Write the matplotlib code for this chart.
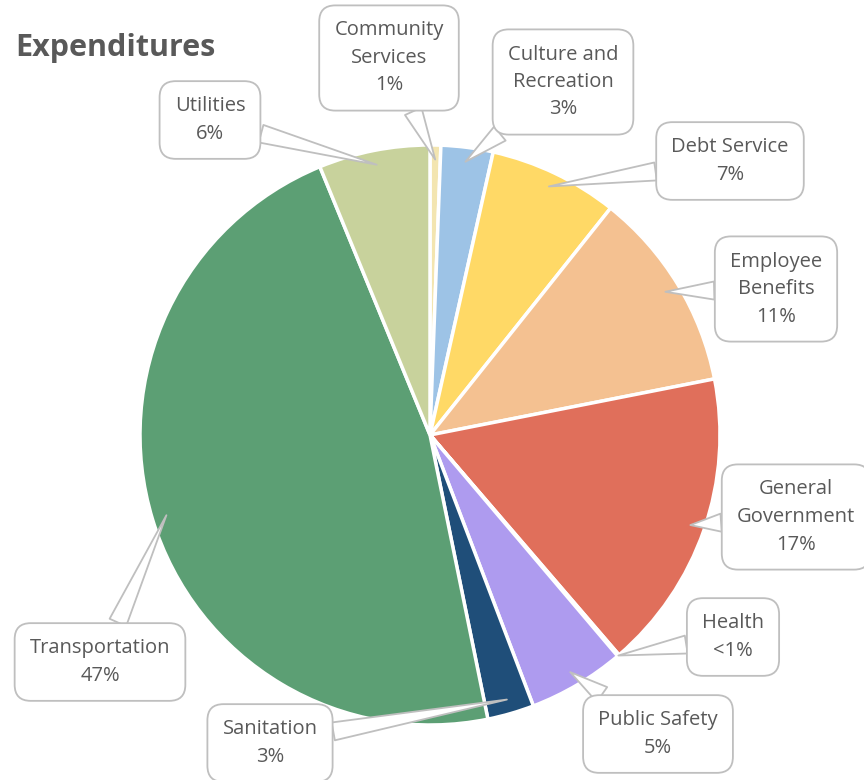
"""
Expenditure breakdown as a pie chart with callout labels.
"""

import matplotlib.pyplot as plt
import numpy as np

categories = [
    "Community\nServices", "Culture and\nRecreation", "Debt Service",
    "Employee\nBenefits", "General\nGovernment", "Health",
    "Public Safety", "Sanitation", "Transportation", "Utilities",
]
shares = [0.6, 2.9, 7.2, 11.2, 16.8, 0.1, 5.4, 2.6, 47.0, 6.2]
colors = [
    "#F3E5B0", "#9DC3E6", "#FFD966", "#F4C191", "#E06F5B",
    "#C55A11", "#AE9BEF", "#1F4E79", "#5C9F74", "#C8D29C",
]

# callout box centres, in figure pixels measured from the top-left
box_centres = [
    (389, 58), (563, 82), (730, 161), (776, 289), (796, 517),
    (733, 637), (658, 734), (270, 743), (100, 662), (210, 120),
]

TEXT_GREY = "#595959"
EDGE_GREY = "#BFBFBF"
W, H = 864, 780


def pct_label(value):
    if value < 0.5:
        return "<1%"
    return f"{round(value):.0f}%"


def main():
    plt.rcParams["font.family"] = ["Open Sans", "DejaVu Sans"]
    fig = plt.figure(figsize=(W / 100, H / 100), dpi=100)

    cx, cy, r = 430, 435, 290
    ax = fig.add_axes([(cx - r) / W, (H - cy - r) / H, 2 * r / W, 2 * r / H])
    wedges, _ = ax.pie(
        shares, colors=colors, startangle=90, counterclock=False,
        radius=1.0, wedgeprops=dict(edgecolor="white", linewidth=2.5),
    )
    ax.set_xlim(-1, 1)
    ax.set_ylim(-1, 1)
    ax.set_aspect("equal")
    ax.axis("off")

    for w, name, val, (bx, by) in zip(wedges, categories, shares, box_centres):
        mid = np.deg2rad((w.theta1 + w.theta2) / 2)
        rr = 1.0 if val < 0.5 else 0.95
        tip = (rr * np.cos(mid), rr * np.sin(mid))
        ax.annotate(
            f"{name}\n{pct_label(val)}",
            xy=tip, xycoords="data",
            xytext=(bx / W, 1 - by / H), textcoords="figure fraction",
            ha="center", va="center", fontsize=14.5, color=TEXT_GREY,
            linespacing=1.5,
            bbox=dict(boxstyle="round,pad=0.75,rounding_size=0.8",
                      fc="white", ec=EDGE_GREY, lw=1.3),
            arrowprops=dict(arrowstyle="wedge,tail_width=0.9,shrink_factor=0.5",
                            fc="white", ec=EDGE_GREY, lw=1.3,
                            shrinkA=0, shrinkB=0),
            annotation_clip=False,
        )

    fig.text(15 / W, 1 - 48 / H, "Expenditures", fontsize=22,
             fontweight="bold", color=TEXT_GREY, ha="left", va="center")

    fig.savefig("out.png", dpi=100)


if __name__ == "__main__":
    main()
